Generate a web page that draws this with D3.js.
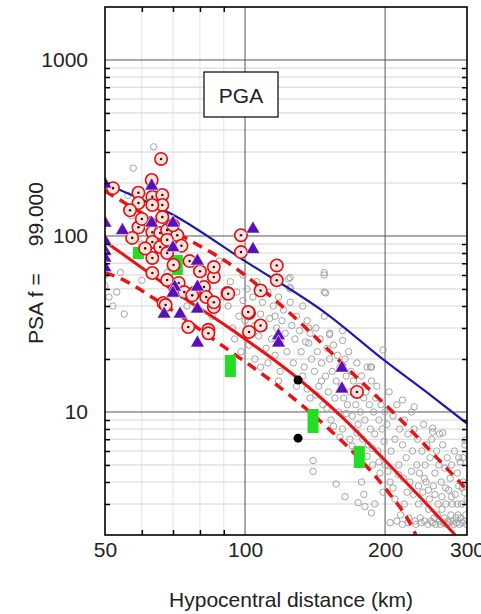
<!DOCTYPE html>
<html>
<head>
<meta charset="utf-8">
<script src="https://cdn.jsdelivr.net/npm/d3@7"></script>
<style>
  body { margin: 0; background: #fff; }
  svg { display: block; }
  text { font-family: "Liberation Sans", Arial, sans-serif; }
</style>
</head>
<body>
<svg id="chart" width="481" height="614"></svg>
<script>
// ---- axis ticks ----
const xTickLabels = [50, 100, 200, 300];
const xMinorTicks = [60, 70, 80, 90];
const yTickLabels = [10, 100, 1000];
const yMinorTicks = [3, 4, 5, 6, 7, 8, 9, 20, 30, 40, 50, 60, 70, 80, 90, 200, 300, 400, 500, 600, 700, 800, 900];

// ---- model curves: [distance km, PSA] ----
const bluePrediction = [[52, 190], [70, 132], [100, 72], [150, 36], [200, 19.5], [250, 12.5], [300, 8.6]];
const redMedian = [[50, 93], [52.3, 85.5], [60, 66], [70, 49], [93.7, 29.3], [130, 15.5], [160, 9.6], [200, 5.3], [240, 3.2], [283, 2]];
const redUpper = [[50, 180], [60, 135], [73.8, 99], [80.7, 86.6], [91.5, 71], [120, 40], [169.7, 16.7], [220, 8.6], [260, 5.4], [300, 3.6]];
const redLower = [[50, 62], [53.1, 58.5], [64.5, 43.3], [90, 23.5], [119.2, 13.7], [150, 8.2], [183, 4.87], [205, 3.4], [225, 2.4], [233, 2]];

// ---- observations: [distance km, PSA] ----
const grayRecords = [
  [50, 60], [50, 52], [51, 45], [52, 40], [53, 48], [54, 62], [55, 36], [57, 130], [57.5, 243], [60, 56], [63.6, 321], [56, 170],
  [60, 90], [64, 75], [68, 62], [72, 95], [75, 40], [78, 68], [82, 58], [85, 35], [88, 72], [90, 45],
  [92, 40], [93, 55], [94, 30], [95, 26], [96, 48], [97, 35], [98, 22], [99, 60], [99, 43],
  [100, 33], [100, 28], [101, 50], [102, 24], [103, 38], [104, 45], [105, 20], [105, 31], [106, 55], [107, 27], [108, 36], [108, 18], [109, 42],
  [110, 30], [111, 23], [112, 48], [113, 34], [114, 26], [115, 40], [116, 35], [116, 21], [117, 30], [118, 45], [119, 17], [119, 25],
  [120, 33], [121, 38], [122, 28], [123, 22], [124, 57], [125, 50], [125, 42], [126, 31], [127, 19], [128, 26], [129, 35], [129, 14],
  [131, 29], [132, 22], [133, 40], [134, 18], [135, 25], [136, 33], [137, 24.6], [138, 12], [139, 20], [140, 5.3], [140, 4.6], [138, 28],
  [141, 17], [142, 30], [143, 22], [144, 14], [145, 26], [146, 19], [147, 11], [148, 62], [148, 48], [148, 35], [149, 16], [150, 23],
  [151, 13], [152, 27.5], [152, 20], [153, 9], [154, 17], [155, 24], [156, 12], [157, 3.9], [157, 15], [158, 21], [159, 10], [160, 18],
  [161, 14], [162, 25.5], [162, 8], [163, 12], [164, 20], [165, 16], [166, 11], [167, 22], [168, 7], [168, 13], [169, 17], [170, 9.5],
  [171, 15], [172, 6], [173, 11], [174, 19], [175, 8.5], [176, 14], [177, 10], [178, 4], [178, 16], [179, 7], [180, 12], [180, 3.4],
  [181, 9], [182, 13], [183, 18], [184, 6.5], [185, 11], [186, 8], [187, 15], [187, 18], [188, 5], [189, 10], [190, 7.5], [190, 3],
  [191, 12], [192, 14], [193, 6], [194, 9], [195, 4.5], [196, 11], [197, 8], [198, 22.5], [198, 3.5], [199, 6.8], [200, 10], [200, 5],
  [202, 8.5], [204, 13], [205, 4], [206, 6], [208, 9.5], [210, 3.2], [210, 7], [212, 11], [214, 5], [215, 8], [216, 2.6], [218, 6.5], [219, 4.2], [220, 9], [220, 3],
  [222, 5.5], [224, 7.5], [225, 2.5], [226, 4], [228, 10], [229, 6], [230, 3.4], [231, 8], [232, 2.4], [234, 5], [235, 7], [236, 3], [237, 4.5], [238, 2.5], [240, 6],
  [241, 3.5], [242, 8.5], [243, 2.4], [244, 5], [245, 4], [246, 6.5], [248, 2.8], [249, 3.2], [250, 5.5], [251, 2.4], [252, 7], [254, 3.8], [255, 2.5], [256, 4.5], [258, 6], [259, 2.6], [260, 3],
  [261, 5], [262, 2.4], [264, 4], [265, 3.3], [266, 6.5], [268, 2.5], [269, 4.8], [270, 3], [272, 5.5], [273, 2.4], [274, 3.6], [276, 4.2], [277, 2.6], [278, 5], [279, 3], [280, 2.4],
  [282, 6], [283, 3.4], [284, 2.5], [286, 4.5], [287, 2.6], [288, 3.8], [290, 5.2], [291, 2.5], [292, 3], [294, 4], [295, 2.4], [296, 3.5], [297, 6.5], [298, 2.6],
  [205, 2.35], [212, 2.4], [218, 2.3], [224, 2.35], [233, 2.3], [239, 2.35], [247, 2.3], [253, 2.35], [257, 2.3], [263, 2.3], [267, 2.35], [271, 2.3], [275, 2.35], [281, 2.3], [285, 2.35], [289, 2.3], [293, 2.35], [299, 2.3],
  [125, 58], [125, 51], [137, 30], [152, 28], [162, 29], [186, 18], [218, 11.7], [231, 10.7], [253, 8.1], [262, 7.5], [294, 5.5], [148, 60], [149, 47.5],
  [253, 7.7], [266, 7.6], [288, 5.5], [297, 6.9], [164, 3.3], [175, 3.05], [181, 2.9], [187, 2.67],
  [133, 16], [136, 13.5], [142, 12.5], [146, 15], [150, 10.5], [155, 8.3], [160, 7.2], [165, 9.8], [170, 6.4], [174, 7.6],
  [183, 5.6], [188, 6.2], [194, 5.2], [203, 4.6], [208, 3.7], [214, 4.4], [223, 3.5], [228, 4.6], [236, 3.8], [243, 4.2],
  [248, 3.6], [256, 3.4], [265, 2.8], [270, 3.7], [278, 3.3], [286, 3], [293, 3.7], [300, 3.2], [112, 19], [118, 15]
];

const redCircleRecords = [
  [66, 274], [52, 187], [59, 176], [59, 154], [56.6, 140], [63.2, 167], [66.4, 171], [66.4, 150], [63.2, 150], [66.4, 128],
  [59, 112], [63.2, 105], [65.7, 104], [68, 108], [71.5, 101], [57.2, 97.5], [63.2, 92.5], [65.7, 86.6], [68, 80], [63.2, 75],
  [70.2, 68.4], [63.2, 61.6], [68, 56.2], [72, 54.1], [77.7, 47.4], [81.6, 51.3], [82.5, 45], [85.7, 39.5], [85.7, 58.5], [85.7, 66.6],
  [91.7, 47.4], [75.5, 30.4], [83.4, 29.3], [66.8, 41.6], [102, 36.5], [102, 28.5], [117, 68], [117, 56], [108, 49], [108, 31],
  [98, 101], [98, 81], [174, 13], [63, 208], [74, 48], [77, 46], [67.5, 40.5], [83.4, 28], [85.7, 42], [92, 47],
  [101.6, 37], [60, 125], [61, 85], [70, 115], [73, 88], [76, 72], [80, 63], [68, 95]
];

const triangleRecords = [
  [50, 200], [50, 120], [50, 95], [50, 83], [50, 76], [50, 67], [54.5, 109], [63, 195], [63, 120], [70, 120],
  [70, 87], [79, 73], [70.6, 52], [70, 48], [79, 52], [67, 36.5], [72.5, 36.5], [79, 39], [79, 25], [104, 111],
  [104, 85], [118, 27.5], [118, 25], [161.5, 18], [161.5, 13.7]
];

// green bars: [distance km, low PSA, high PSA]
const greenRanges = [[59, 74, 86.6], [71.5, 60, 78], [93, 15.8, 21.1], [140, 7.6, 10.4], [176, 4.8, 6.4]];

const blackRecords = [[130, 15.2], [130, 7.1]];

// ---- layout ----
const svg = d3.select("#chart");
const W = 481, H = 614;
const mLeft = 105, mRight = 467, mTop = 7, mBottom = 535;
const FONT = 21;

svg.append("rect").attr("width", W).attr("height", H).attr("fill", "#fff");

const x = d3.scaleLog().domain([50, 300]).range([mLeft, mRight]);
const y = d3.scaleLog().domain([2, 2000]).range([mBottom, mTop]);

svg.append("clipPath").attr("id", "plotClip")
  .append("rect").attr("x", mLeft).attr("y", mTop).attr("width", mRight - mLeft).attr("height", mBottom - mTop);

// ---- grid ----
const grid = svg.append("g");
grid.selectAll("line.ymin").data(yMinorTicks).join("line")
  .attr("x1", mLeft).attr("x2", mRight)
  .attr("y1", d => y(d)).attr("y2", d => y(d))
  .attr("stroke", "#d4d4d4").attr("stroke-width", 1);
grid.selectAll("line.xmin").data(xMinorTicks).join("line")
  .attr("y1", mTop).attr("y2", mBottom)
  .attr("x1", d => x(d)).attr("x2", d => x(d))
  .attr("stroke", "#e2e2e2").attr("stroke-width", 1);
grid.selectAll("line.ymaj").data(yTickLabels).join("line")
  .attr("x1", mLeft).attr("x2", mRight)
  .attr("y1", d => y(d)).attr("y2", d => y(d))
  .attr("stroke", "#555").attr("stroke-width", 1);
grid.selectAll("line.xmaj").data([100, 200]).join("line")
  .attr("y1", mTop).attr("y2", mBottom)
  .attr("x1", d => x(d)).attr("x2", d => x(d))
  .attr("stroke", "#555").attr("stroke-width", 1);

const plot = svg.append("g").attr("clip-path", "url(#plotClip)");

// ---- gray observations ----
plot.append("g").selectAll("circle").data(grayRecords).join("circle")
  .attr("cx", d => x(d[0])).attr("cy", d => y(d[1])).attr("r", 3.2)
  .attr("fill", "none").attr("stroke", "#a4a4a4").attr("stroke-width", 1);

// ---- model curves ----
const line = d3.line().x(d => x(d[0])).y(d => y(d[1])).curve(d3.curveMonotoneX);
plot.append("path").datum(bluePrediction).attr("d", line)
  .attr("fill", "none").attr("stroke", "#1c1ca8").attr("stroke-width", 2.2);
plot.append("path").datum(redMedian).attr("d", line)
  .attr("fill", "none").attr("stroke", "#ee1111").attr("stroke-width", 3);
[redUpper, redLower].forEach(c => {
  plot.append("path").datum(c).attr("d", line)
    .attr("fill", "none").attr("stroke", "#ee1111").attr("stroke-width", 3.5)
    .attr("stroke-dasharray", "10,7");
});

// ---- green bars ----
plot.append("g").selectAll("rect").data(greenRanges).join("rect")
  .attr("x", d => x(d[0]) - 5.5).attr("width", 11)
  .attr("y", d => y(d[2])).attr("height", d => y(d[1]) - y(d[2]))
  .attr("fill", "#22dd22");

// ---- black dots ----
plot.append("g").selectAll("circle").data(blackRecords).join("circle")
  .attr("cx", d => x(d[0])).attr("cy", d => y(d[1])).attr("r", 4.5)
  .attr("fill", "#000");

// ---- red circled records ----
const rc = plot.append("g").selectAll("g").data(redCircleRecords).join("g")
  .attr("transform", d => `translate(${x(d[0])},${y(d[1])})`);
rc.append("circle").attr("r", 6.2).attr("fill", "#fde3e0").attr("stroke", "#e01010").attr("stroke-width", 1.6);
rc.append("circle").attr("r", 1.3).attr("fill", "#401010");

// ---- purple triangles ----
const tri = d3.symbol().type(d3.symbolTriangle).size(85);
plot.append("g").selectAll("path").data(triangleRecords).join("path")
  .attr("transform", d => `translate(${x(d[0])},${y(d[1]) + 1})`)
  .attr("d", tri).attr("fill", "#5a10b8").attr("stroke", "#ffffff").attr("stroke-width", 0.6);

// ---- axes ----
const fmt = d3.format("d");
const axB = svg.append("g").attr("transform", `translate(0,${mBottom})`)
  .call(d3.axisBottom(x).tickValues(xTickLabels).tickFormat(fmt).tickSize(0).tickPadding(7));
const axL = svg.append("g").attr("transform", `translate(${mLeft},0)`)
  .call(d3.axisLeft(y).tickValues(yTickLabels).tickFormat(fmt).tickSize(0).tickPadding(17));
[axB, axL].forEach(a => {
  a.select(".domain").remove();
  a.selectAll("text").attr("font-size", FONT).attr("fill", "#222")
    .attr("font-family", "'Liberation Sans', Arial, sans-serif");
});

// inward minor ticks on all four sides
svg.append("g").attr("transform", `translate(0,${mBottom})`)
  .call(d3.axisTop(x).tickValues(xMinorTicks).tickFormat("").tickSizeInner(5).tickSizeOuter(0))
  .call(g => g.select(".domain").remove());
svg.append("g").attr("transform", `translate(0,${mTop})`)
  .call(d3.axisBottom(x).tickValues(xMinorTicks).tickFormat("").tickSizeInner(5).tickSizeOuter(0))
  .call(g => g.select(".domain").remove());
svg.append("g").attr("transform", `translate(${mLeft},0)`)
  .call(d3.axisRight(y).tickValues(yMinorTicks).tickFormat("").tickSizeInner(5).tickSizeOuter(0))
  .call(g => g.select(".domain").remove());
svg.append("g").attr("transform", `translate(${mRight},0)`)
  .call(d3.axisLeft(y).tickValues(yMinorTicks).tickFormat("").tickSizeInner(5).tickSizeOuter(0))
  .call(g => g.select(".domain").remove());
svg.selectAll(".tick line").attr("stroke", "#000").attr("stroke-width", 1.5);

// frame
svg.append("rect").attr("x", mLeft).attr("y", mTop).attr("width", mRight - mLeft).attr("height", mBottom - mTop)
  .attr("fill", "none").attr("stroke", "#000").attr("stroke-width", 1.6);

// ---- label box ----
svg.append("rect").attr("x", 204).attr("y", 72).attr("width", 74).attr("height", 45)
  .attr("fill", "#fff").attr("stroke", "#000").attr("stroke-width", 1.2);
svg.append("text").attr("x", 241).attr("y", 102.5).attr("text-anchor", "middle")
  .attr("font-size", FONT).attr("fill", "#222").text("PGA");

// ---- axis titles ----
svg.append("text").attr("x", 291).attr("y", 607).attr("text-anchor", "middle")
  .attr("font-size", FONT).attr("fill", "#222").text("Hypocentral distance (km)");
const yt = svg.append("text").attr("transform", "translate(43,263) rotate(-90)")
  .attr("text-anchor", "middle").attr("font-size", FONT).attr("fill", "#222");
yt.append("tspan").text("PSA f =");
yt.append("tspan").attr("dx", 27).text("99.000");
</script>
</body>
</html>
